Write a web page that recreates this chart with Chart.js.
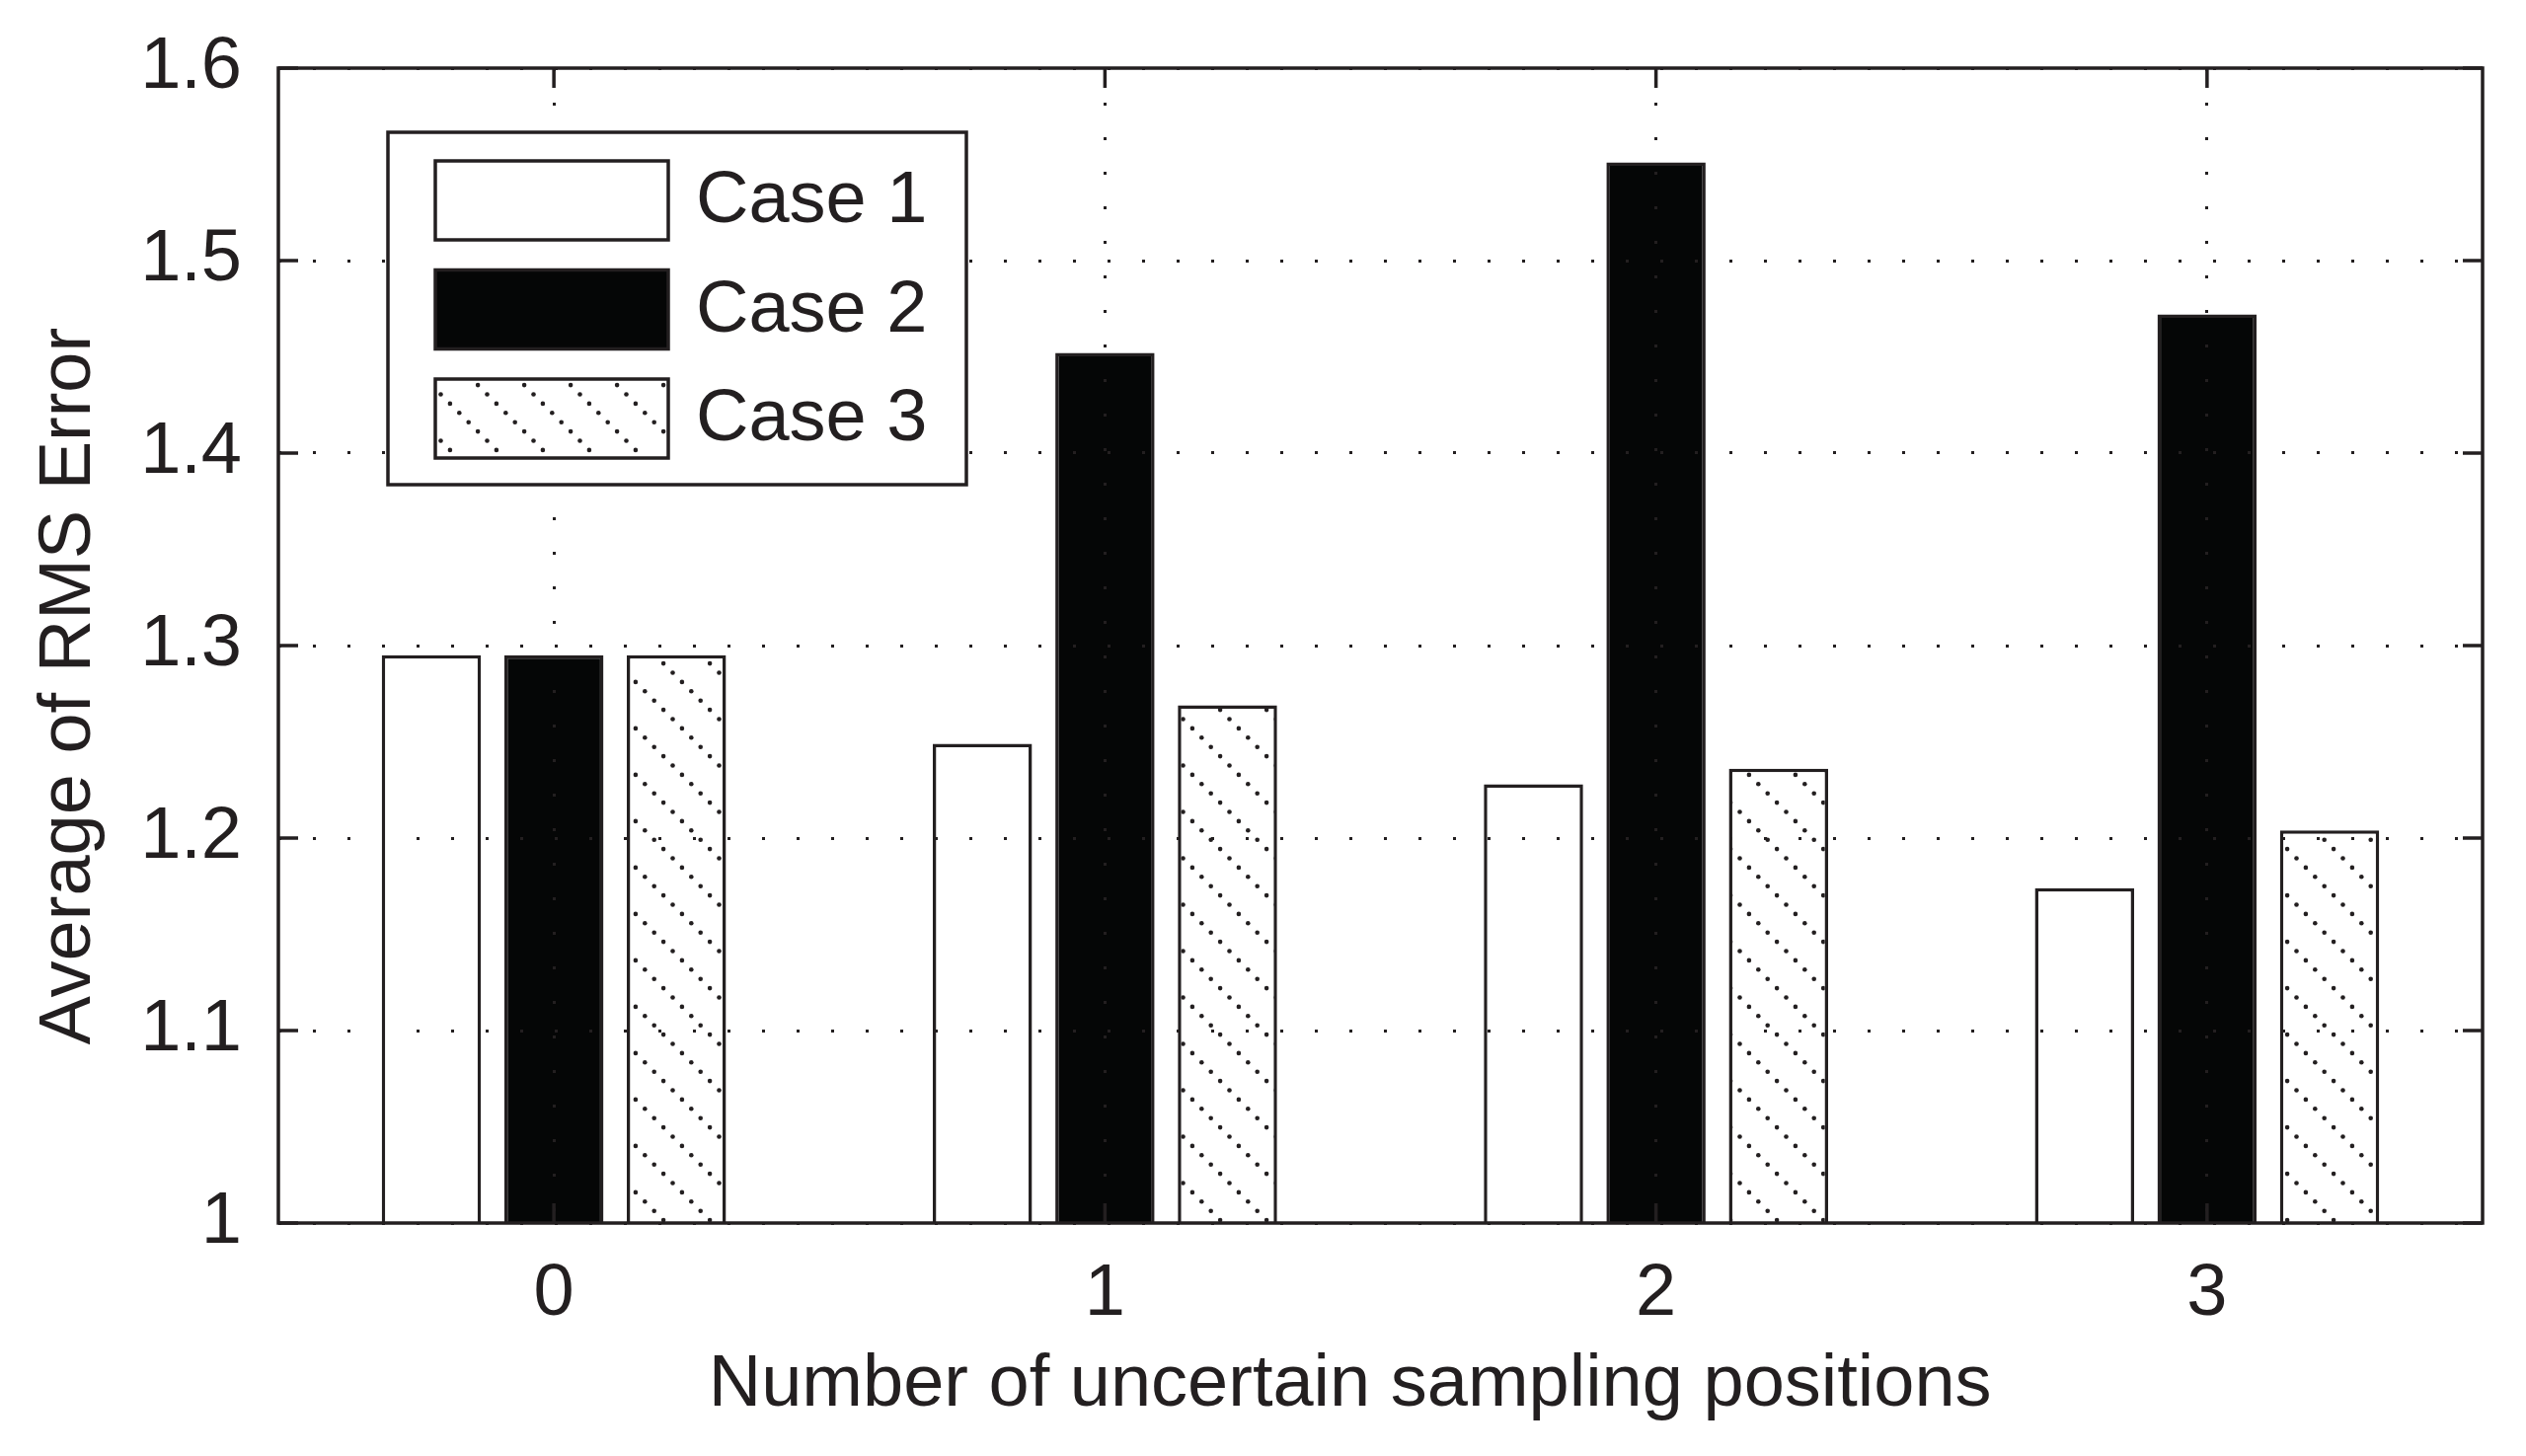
<!DOCTYPE html>
<html>
<head>
<meta charset="utf-8">
<script src="https://cdn.jsdelivr.net/npm/chart.js@4.4.1/dist/chart.umd.min.js"></script>
<style>
  html, body { margin: 0; padding: 0; background: #fff; }
  canvas { display: block; }
</style>
</head>
<body>
<canvas id="rmsChart" width="2559" height="1475"></canvas>
<script>
const categories = ['0', '1', '2', '3'];
const caseLabels = ['Case 1', 'Case 2', 'Case 3'];
const case1Values = [1.295, 1.249, 1.228, 1.174];
const case2Values = [1.295, 1.452, 1.551, 1.472];
const case3Values = [1.295, 1.269, 1.236, 1.204];
const yTickLabels = ['1', '1.1', '1.2', '1.3', '1.4', '1.5', '1.6'];

const ink = '#231f20';
const fontFamily = "'Liberation Sans', Arial, sans-serif";
const fontSize = 74;

// dotted diagonal hatch like the matlab "\" fill
function makeHatch() {
  const size = 47;
  const tile = document.createElement('canvas');
  tile.width = size;
  tile.height = size;
  const t = tile.getContext('2d');
  t.fillStyle = '#fff';
  t.fillRect(0, 0, size, size);
  t.fillStyle = ink;
  for (let i = 0; i < 5; i++) {
    const p = i * size / 5 + size / 10;
    t.beginPath();
    t.arc(p, p, 2.3, 0, Math.PI * 2);
    t.fill();
  }
  return t.createPattern(tile, 'repeat');
}

const axisFrame = {
  id: 'axisFrame',
  afterDraw(chart) {
    const { ctx, chartArea: a, scales } = chart;
    const tick = 20;
    ctx.save();
    ctx.strokeStyle = ink;
    ctx.lineWidth = 3.5;
    ctx.beginPath();
    scales.y.ticks.forEach((t, i) => {
      const y = scales.y.getPixelForTick(i);
      ctx.moveTo(a.left, y); ctx.lineTo(a.left + tick, y);
      ctx.moveTo(a.right, y); ctx.lineTo(a.right - tick, y);
    });
    categories.forEach((c, i) => {
      const x = scales.x.getPixelForValue(i);
      ctx.moveTo(x, a.bottom); ctx.lineTo(x, a.bottom - tick);
      ctx.moveTo(x, a.top); ctx.lineTo(x, a.top + tick);
    });
    ctx.stroke();
    ctx.strokeRect(a.left, a.top, a.right - a.left, a.bottom - a.top);
    ctx.restore();
  }
};

const boxedLegend = {
  id: 'boxedLegend',
  afterDraw(chart) {
    const { ctx, chartArea } = chart;
    const x0 = chartArea.left + 111;
    const y0 = chartArea.top + 65;
    ctx.save();
    ctx.fillStyle = '#fff';
    ctx.fillRect(x0, y0, 586, 357);
    ctx.lineWidth = 3.5;
    ctx.strokeStyle = ink;
    ctx.strokeRect(x0, y0, 586, 357);
    chart.data.datasets.forEach((ds, i) => {
      const sy = y0 + 29 + i * 110.5;
      ctx.fillStyle = ds.backgroundColor;
      ctx.fillRect(x0 + 48, sy, 236, 80);
      ctx.strokeRect(x0 + 48, sy, 236, 80);
      ctx.fillStyle = ink;
      ctx.font = fontSize + 'px ' + fontFamily;
      ctx.textBaseline = 'middle';
      ctx.textAlign = 'left';
      ctx.fillText(ds.label, x0 + 312, sy + 42);
    });
    ctx.restore();
  }
};

Chart.defaults.font.family = fontFamily;
Chart.defaults.font.size = fontSize;
Chart.defaults.color = ink;

const ctx = document.getElementById('rmsChart').getContext('2d');

const chart = new Chart(ctx, {
  type: 'bar',
  data: {
    labels: categories,
    datasets: [
      { label: caseLabels[0], data: case1Values, backgroundColor: '#ffffff' },
      { label: caseLabels[1], data: case2Values, backgroundColor: '#050606' },
      { label: caseLabels[2], data: case3Values, backgroundColor: makeHatch() }
    ].map(ds => Object.assign(ds, {
      borderColor: ink,
      borderWidth: 3.5,
      borderSkipped: false,
      categoryPercentage: 0.667,
      barPercentage: 0.81
    }))
  },
  options: {
    responsive: false,
    animation: false,
    layout: { padding: { left: 0, right: 44, top: 69, bottom: 0 } },
    plugins: {
      legend: { display: false },
      tooltip: { enabled: false }
    },
    scales: {
      x: {
        offset: true,
        grid: { offset: false, color: ink, lineWidth: 3, drawTicks: false, z: 1 },
        border: { display: false, dash: [3, 32] },
        ticks: { padding: 28 },
        title: {
          display: true,
          // trailing spaces nudge the centred title left like the original
          text: 'Number of uncertain sampling positions   ',
          padding: { top: 0, bottom: 27 }
        },
        afterFit: s => { s.height = 236; }
      },
      y: {
        min: 1,
        max: 1.6,
        grid: { color: ink, lineWidth: 3, drawTicks: false, z: 1 },
        border: { display: false, dash: [3, 32] },
        ticks: {
          stepSize: 0.1,
          padding: 37,
          callback: (v, i) => yTickLabels[i]
        },
        title: {
          display: true,
          text: 'Average of RMS Error    ',
          padding: { top: 26, bottom: 0 }
        },
        afterFit: s => {
          s.width = 282;
          s.paddingTop = 0;
          s.paddingBottom = 0;
        }
      }
    }
  },
  plugins: [axisFrame, boxedLegend]
});
</script>
</body>
</html>
